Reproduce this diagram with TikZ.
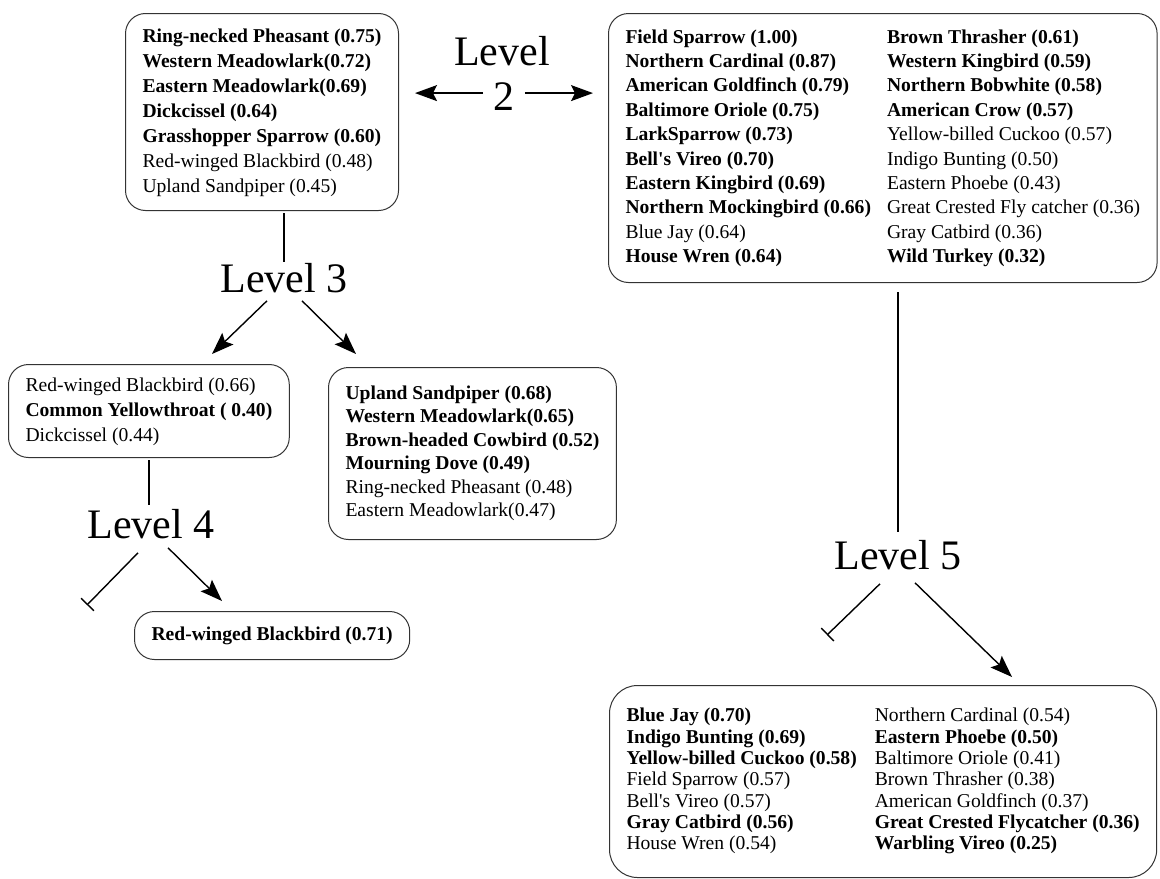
\documentclass[tikz,border=0pt]{standalone}
\usepackage{fontspec}
\setmainfont{Liberation Serif}
\usetikzlibrary{arrows.meta,calc}

\begin{document}
\begin{tikzpicture}[x=0.5pt,y=-0.5pt,
  birdbox/.style={draw=black!80, line width=0.5pt, rounded corners=10pt, anchor=north west, inner xsep=8.5pt, inner ysep=0pt, font=\fontsize{9.8pt}{12.5pt}\selectfont},
  levlabel/.style={inner sep=0pt, anchor=base, font=\fontsize{21pt}{22pt}\selectfont},
  conn/.style={line width=0.7pt},
  arr/.style={conn, -{Stealth[length=11pt,width=8pt,inset=2pt]}},
  blocked/.style={conn, -{Bar[width=9pt]}}]
  \useasboundingbox (0,0) rectangle (1160,878);

  \node[birdbox, minimum height=98.5pt] (box2a) at (125,13) {\begin{tabular}{@{}l@{}}
    \textbf{Ring-necked Pheasant (0.75)}\\
    \textbf{Western Meadowlark(0.72)}\\
    \textbf{Eastern Meadowlark(0.69)}\\
    \textbf{Dickcissel (0.64)}\\
    \textbf{Grasshopper Sparrow (0.60)}\\
    Red-winged Blackbird (0.48)\\
    Upland Sandpiper (0.45)
  \end{tabular}};
  \node[birdbox, minimum height=134.5pt, font=\fontsize{9.8pt}{12.2pt}\selectfont] (box2b) at (608,13) {\begin{tabular}{@{}l@{\hspace{8pt}}l@{}}
    \textbf{Field Sparrow (1.00)} & \textbf{Brown Thrasher (0.61)}\\
    \textbf{Northern Cardinal (0.87)} & \textbf{Western Kingbird (0.59)}\\
    \textbf{American Goldfinch (0.79)} & \textbf{Northern Bobwhite (0.58)}\\
    \textbf{Baltimore Oriole (0.75)} & \textbf{American Crow (0.57)}\\
    \textbf{LarkSparrow (0.73)} & Yellow-billed Cuckoo (0.57)\\
    \textbf{Bell\textquotesingle s Vireo (0.70)} & Indigo Bunting (0.50)\\
    \textbf{Eastern Kingbird (0.69)} & Eastern Phoebe (0.43)\\
    \textbf{Northern Mockingbird (0.66)} & Great Crested Fly catcher (0.36)\\
    Blue Jay (0.64) & Gray Catbird (0.36)\\
    \textbf{House Wren (0.64)} & \textbf{Wild Turkey (0.32)}
  \end{tabular}};
  \node[birdbox, minimum height=46.5pt] (box3a) at (8,364) {\begin{tabular}{@{}l@{}}
    Red-winged Blackbird (0.66)\\
    \textbf{Common Yellowthroat ( 0.40)}\\
    Dickcissel (0.44)
  \end{tabular}};
  \node[birdbox, minimum height=86pt, font=\fontsize{9.8pt}{11.75pt}\selectfont] (box3b) at (328,367) {\begin{tabular}{@{}l@{}}
    \textbf{Upland Sandpiper (0.68)}\\
    \textbf{Western Meadowlark(0.65)}\\
    \textbf{Brown-headed Cowbird (0.52)}\\
    \textbf{Mourning Dove (0.49)}\\
    Ring-necked Pheasant (0.48)\\
    Eastern Meadowlark(0.47)
  \end{tabular}};
  \node[birdbox, minimum height=24pt] (box4) at (134,611) {\textbf{Red-winged Blackbird (0.71)}};
  \node[birdbox, minimum height=96pt, rounded corners=14pt, font=\fontsize{9.8pt}{10.65pt}\selectfont] (box5) at (609,685) {\begin{tabular}{@{}l@{\hspace{9pt}}l@{}}
    \textbf{Blue Jay (0.70)} & Northern Cardinal (0.54)\\
    \textbf{Indigo Bunting (0.69)} & \textbf{Eastern Phoebe (0.50)}\\
    \textbf{Yellow-billed Cuckoo (0.58)} & Baltimore Oriole (0.41)\\
    Field Sparrow (0.57) & Brown Thrasher (0.38)\\
    Bell\textquotesingle s Vireo (0.57) & American Goldfinch (0.37)\\
    \textbf{Gray Catbird (0.56)} & \textbf{Great Crested Flycatcher (0.36)}\\
    House Wren (0.54) & \textbf{Warbling Vireo (0.25)}
  \end{tabular}};

  \node[levlabel] (lev2) at (502,65) {Level};
  \node[levlabel, inner xsep=5pt] (lev2num) at (504,110) {2};
  \node[levlabel] (lev3) at (284,292) {Level 3};
  \node[levlabel] (lev4) at (151,538) {Level 4};
  \node[levlabel] (lev5) at (898,569) {Level 5};

  \coordinate (tip3a) at (212,354);
  \coordinate (tip3b) at (356,354);
  \coordinate (end4a) at (87,605);
  \coordinate (tip4b) at (222,601);
  \coordinate (end5a) at (827,635);
  \coordinate (tip5b) at (1012,677);

  \draw[arr, shorten >=8pt] ([yshift=1.5pt]lev2num.west) -- ([yshift=1.5pt]lev2num.west -| box2a.east);
  \draw[arr, shorten >=7.5pt] ([yshift=1.5pt]lev2num.east) -- ([yshift=1.5pt]lev2num.east -| box2b.west);

  \draw[conn, shorten <=1pt] (lev3.north |- box2a.south) -- (lev3.north);
  \draw[arr] ($(lev3.south)+(-17,8)$) -- (tip3a);
  \draw[arr] ($(lev3.south)+(18,8)$) -- (tip3b);

  \draw[conn, shorten <=1pt, shorten >=1.5pt] (box3a.south) -- (box3a.south |- lev4.north);
  \draw[blocked] ($(lev4.south)+(-13,14)$) -- (end4a);
  \draw[arr] ($(lev4.south)+(17,9)$) -- (tip4b);

  \draw[conn, shorten <=4.5pt, shorten >=3.5pt] (lev5.north |- box2b.south) -- (lev5.north);
  \draw[blocked] ($(lev5.south)+(-18,14)$) -- (end5a);
  \draw[arr] ($(lev5.south)+(17,13)$) -- (tip5b);
\end{tikzpicture}
\end{document}
